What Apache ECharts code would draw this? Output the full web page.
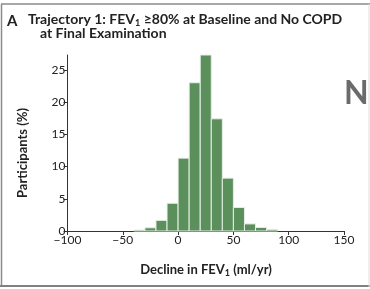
<!DOCTYPE html>
<html><head><meta charset="utf-8">
<script src="https://cdn.jsdelivr.net/npm/echarts@6/dist/echarts.min.js"></script>
<style>html,body{margin:0;padding:0;background:#fff}#c{width:370px;height:289px}</style>
</head><body><div id="c"></div>
<script>
const binEdges = [-40,-30,-20,-10,0,10,20,30,40,50,60,70,80,90];
const participants = [0.15,0.5,1.65,4.3,11.3,23.0,27.3,17.4,8.2,3.65,1.1,0.55,0.25];
const xTicks = [-100,-50,0,50,100,150];
const yTicks = [0,5,10,15,20,25];

const FONT = 'Lato';
const data = participants.map((v,i)=>[binEdges[i], binEdges[i+1], v]);
const chart = echarts.init(document.getElementById('c'), null, {renderer:'canvas'});
const sub = {fontSize:9, fontWeight:'bold', fontFamily:FONT, fill:'#222', padding:[8,0,0,0]};
chart.setOption({
  animation:false,
  grid:{left:67.5, right:26, top:55, bottom:58},
  xAxis:{type:'value', min:-100, max:150, interval:50,
    axisLine:{onZero:false, lineStyle:{color:'#333', width:1}},
    axisTick:{show:true, length:4, lineStyle:{color:'#333'}, customValues:xTicks},
    axisLabel:{color:'#222', fontSize:12, fontFamily:FONT, margin:3, customValues:xTicks,
      formatter:v=>v<0?'\u2212'+Math.abs(v):String(v)},
    splitLine:{show:false}},
  yAxis:{type:'value', min:0, max:27.3,
    axisLine:{show:true, onZero:false, lineStyle:{color:'#333', width:1}},
    axisTick:{show:true, length:4, lineStyle:{color:'#333'}, customValues:yTicks},
    axisLabel:{color:'#222', fontSize:12, fontFamily:FONT, margin:2, customValues:yTicks},
    splitLine:{show:false}},
  series:[{type:'custom', data:data,
    renderItem:(params, api)=>{
      const p0 = api.coord([api.value(0), 0]);
      const p1 = api.coord([api.value(1), api.value(2)]);
      return {type:'rect', shape:{x:p0[0], y:p1[1], width:p1[0]-p0[0], height:p0[1]-p1[1]},
        style:{fill:'#5b8f5b', stroke:'#e6efe6', lineWidth:1}};
    }}],
  graphic:[
    {type:'line', shape:{x1:1, y1:4, x2:370, y2:4}, style:{stroke:'#8a8a8a', lineWidth:1.5}},
    {type:'line', shape:{x1:1.5, y1:4, x2:1.5, y2:287}, style:{stroke:'#8a8a8a', lineWidth:1.5}},
    {type:'line', shape:{x1:0, y1:286, x2:370, y2:286}, style:{stroke:'#808080', lineWidth:2}},
    {type:'line', shape:{x1:369, y1:4, x2:369, y2:287}, style:{stroke:'#dddddd', lineWidth:1}},
    {type:'text', left:7, top:14, style:{text:'A', fontSize:15, fontWeight:'bold', fontFamily:FONT, fill:'#222'}},
    {type:'text', left:28, top:12, style:{
      text:'Trajectory 1: FEV{s|1} \u226580% at Baseline and No COPD',
      fontSize:14, fontWeight:'bold', fontFamily:FONT, fill:'#222', rich:{s:sub}}},
    {type:'text', left:40, top:26, style:{text:'at Final Examination', fontSize:14, fontWeight:'bold', fontFamily:FONT, fill:'#222'}},
    {type:'text', x:206, y:261, style:{
      text:'Decline in FEV{s|1} (ml/yr)', align:'center',
      fontSize:13, fontWeight:'bold', fontFamily:FONT, fill:'#222', rich:{s:sub}}},
    {type:'text', x:16, y:153, rotation:Math.PI/2, style:{text:'Participants (%)', align:'center', verticalAlign:'top',
      fontSize:13, fontWeight:'bold', fontFamily:FONT, fill:'#222'}},
    {type:'text', left:344, top:78, style:{text:'N', fontSize:32, fontWeight:'bold', fontFamily:FONT, fill:'#6b6b6b'}}
  ]
});
</script></body></html>
